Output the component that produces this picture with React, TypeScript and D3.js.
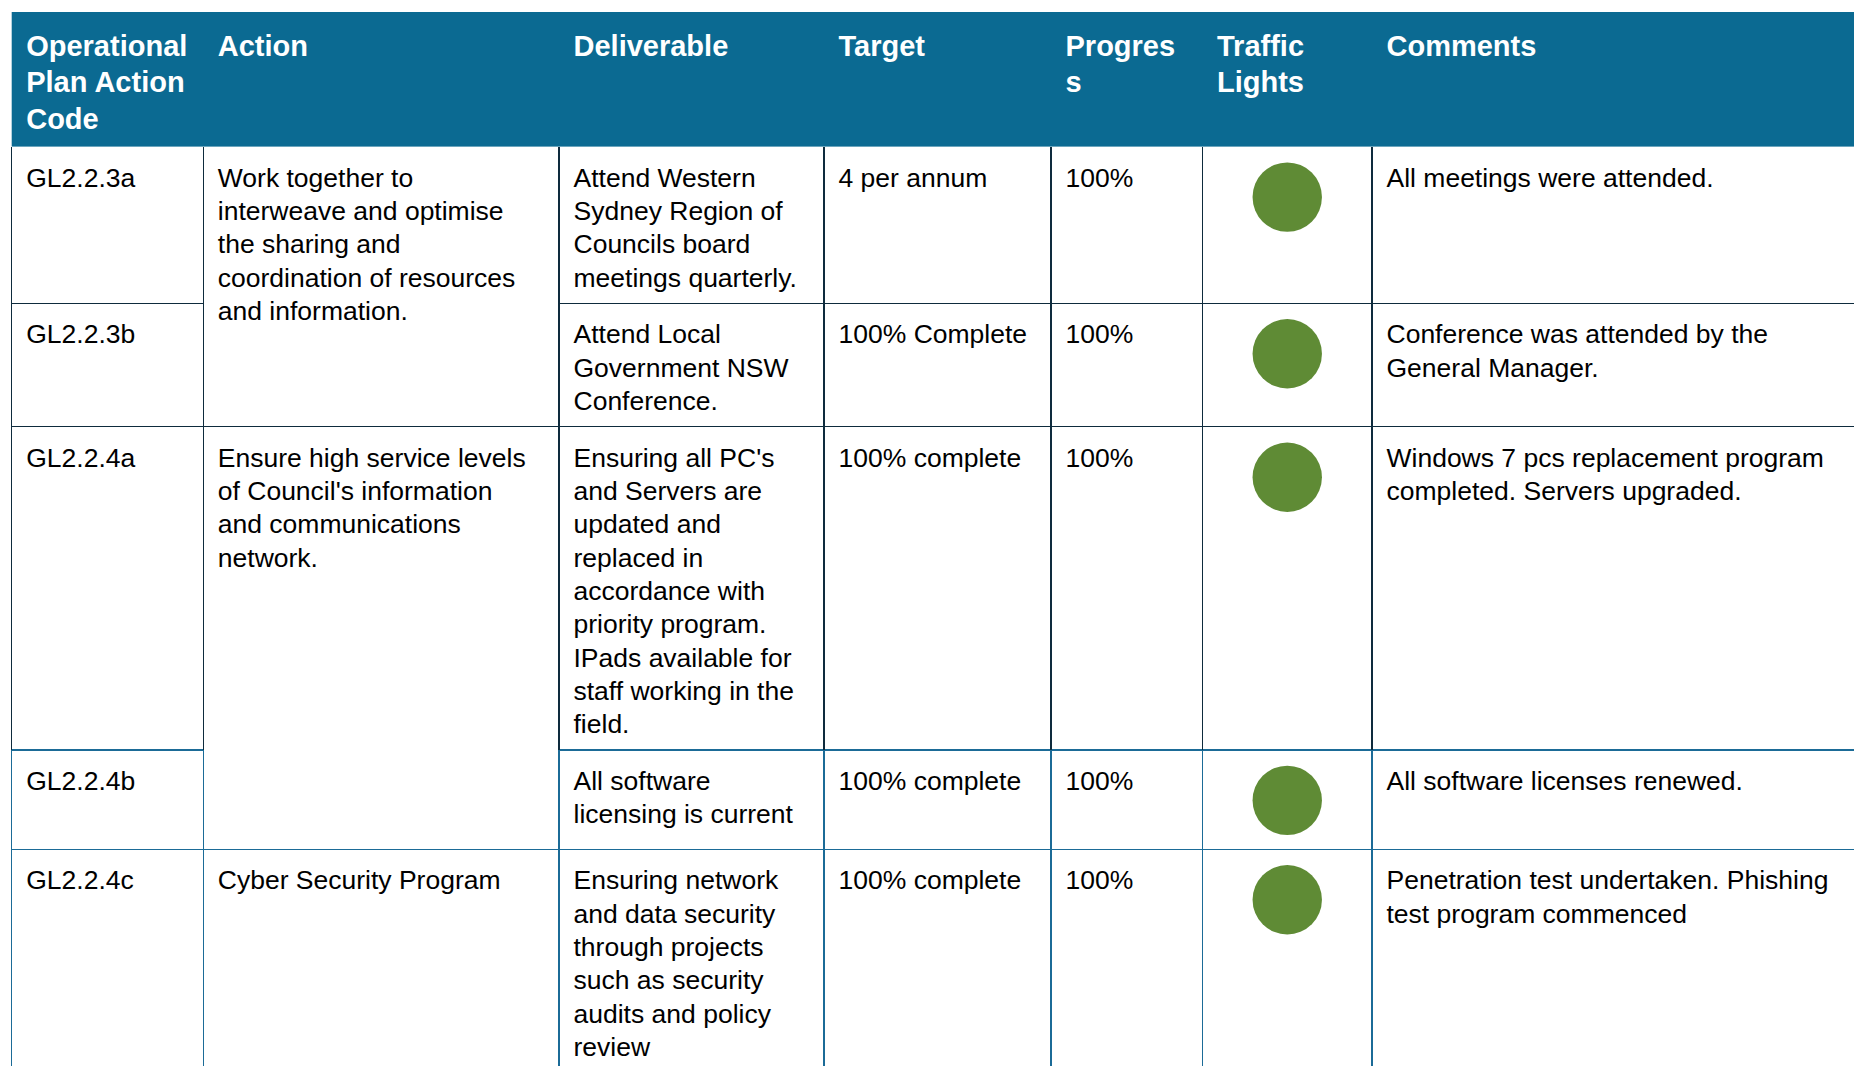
import React from "react";
import * as d3 from "d3";

// ---- data ----
const headers: string[][] = [
  ["Operational", "Plan Action", "Code"],
  ["Action"],
  ["Deliverable"],
  ["Target"],
  ["Progres", "s"],
  ["Traffic", "Lights"],
  ["Comments"],
];

const codes: string[] = ["GL2.2.3a", "GL2.2.3b", "GL2.2.4a", "GL2.2.4b", "GL2.2.4c"];

const actionGroups: { first: number; last: number; lines: string[] }[] = [
  {
    first: 0,
    last: 1,
    lines: [
      "Work together to",
      "interweave and optimise",
      "the sharing and",
      "coordination of resources",
      "and information.",
    ],
  },
  {
    first: 2,
    last: 3,
    lines: [
      "Ensure high service levels",
      "of Council's information",
      "and communications",
      "network.",
    ],
  },
  { first: 4, last: 4, lines: ["Cyber Security Program"] },
];

const deliverables: string[][] = [
  ["Attend Western", "Sydney Region of", "Councils board", "meetings quarterly."],
  ["Attend Local", "Government NSW", "Conference."],
  [
    "Ensuring all PC's",
    "and Servers are",
    "updated and",
    "replaced in",
    "accordance with",
    "priority program.",
    "IPads available for",
    "staff working in the",
    "field.",
  ],
  ["All software", "licensing is current"],
  [
    "Ensuring network",
    "and data security",
    "through projects",
    "such as security",
    "audits and policy",
    "review",
  ],
];

const targets: string[] = ["4 per annum", "100% Complete", "100% complete", "100% complete", "100% complete"];
const progress: string[] = ["100%", "100%", "100%", "100%", "100%"];
const trafficLights: string[] = ["green", "green", "green", "green", "green"];

const comments: string[][] = [
  ["All meetings were attended."],
  ["Conference was attended by the", "General Manager."],
  ["Windows 7 pcs replacement program", "completed. Servers upgraded."],
  ["All software licenses renewed."],
  ["Penetration test undertaken. Phishing", "test program commenced"],
];

// ---- layout ----
const W = 1854;
const H = 1066;
const colWidths = [191.6, 355.7, 265, 227, 151.5, 169.5, 700];
const tableLeft = 11.7;
const tableTop = 12;
const headerH = 134.6;
const lineH = 33.3;
const headLineH = 36.3;
const padX = 14.5;
const minRowH = 99.4;
const FONT = "'Liberation Sans', Arial, Helvetica, sans-serif";
const HEADER_BG = "#0b6a92";
const DARK_LINE = "#0e2b3d";
const BLUE_LINE = "#1b6b97";
const LIGHT_COLORS: Record<string, string> = { green: "#5f8b35", amber: "#f0a830", red: "#c0392b" };

export default function App() {
  const colX = [tableLeft, ...Array.from(d3.cumsum(colWidths)).map((v) => tableLeft + v)];
  const x = d3.scaleOrdinal<number, number>().domain(d3.range(colWidths.length)).range(colX);

  // row heights from content
  const rowLines = codes.map((_, i) => {
    const act = actionGroups.find((g) => g.first === i && g.first === g.last);
    return Math.max(deliverables[i].length, comments[i].length, act ? act.lines.length : 1);
  });
  const rowHeights = rowLines.map((n) => Math.max(n * lineH + 23.5, minRowH));
  const bodyTop = tableTop + headerH;
  const rowTops = [bodyTop, ...Array.from(d3.cumsum(rowHeights)).map((v) => bodyTop + v)];
  const y = d3.scaleOrdinal<number, number>().domain(d3.range(rowTops.length)).range(rowTops);

  const lineColor = (r: number) => (r >= 3 ? BLUE_LINE : DARK_LINE);
  const right = W + 50;

  const textLines = (lines: string[], cx: number, top: number, key: string) =>
    lines.map((t, k) => (
      <text key={key + k} x={cx + padX} y={top + 40 + k * lineH}>
        {t}
      </text>
    ));

  const trafficCx = (x(5) + x(6)) / 2;

  return (
    <svg
      width={W}
      height={H}
      style={{ position: "absolute", left: 0, top: 0, background: "#fff" }}
      fontFamily={FONT}
    >
      <rect x={0} y={0} width={W} height={H} fill="#fff" />
      {/* header */}
      <rect x={tableLeft} y={tableTop} width={right - tableLeft} height={headerH} fill={HEADER_BG} />
      <g fill="#fff" fontWeight="bold" fontSize={29}>
        {headers.map((lines, c) =>
          lines.map((t, k) => (
            <text key={`h${c}-${k}`} x={x(c) + padX} y={tableTop + 44 + k * headLineH}>
              {t}
            </text>
          ))
        )}
      </g>

      {/* body text */}
      <g fill="#000" fontSize={26.5}>
        {codes.map((c, i) => textLines([c], x(0), y(i), `c${i}`))}
        {actionGroups.map((g, i) => textLines(g.lines, x(1), y(g.first), `a${i}`))}
        {deliverables.map((d, i) => textLines(d, x(2), y(i), `d${i}`))}
        {targets.map((t, i) => textLines([t], x(3), y(i), `t${i}`))}
        {progress.map((p, i) => textLines([p], x(4), y(i), `p${i}`))}
        {comments.map((cm, i) => textLines(cm, x(6), y(i), `m${i}`))}
      </g>

      {/* traffic lights */}
      {trafficLights.map((l, i) => (
        <circle key={`l${i}`} cx={trafficCx} cy={y(i) + 50.5} r={34.7} fill={LIGHT_COLORS[l]} />
      ))}

      {/* horizontal borders */}
      <g strokeWidth={1.2} shapeRendering="crispEdges">
        {codes.slice(1).map((_, j) => {
          const r = j + 1;
          const yy = y(r);
          const inGroup = actionGroups.some((g) => r > g.first && r <= g.last);
          const col = lineColor(r);
          if (inGroup) {
            return (
              <g key={`hl${r}`}>
                <line x1={x(0)} x2={x(1)} y1={yy} y2={yy} stroke={col} />
                <line x1={x(2)} x2={right} y1={yy} y2={yy} stroke={col} />
              </g>
            );
          }
          return <line key={`hl${r}`} x1={x(0)} x2={right} y1={yy} y2={yy} stroke={col} />;
        })}
        {/* vertical borders */}
        {codes.map((_, r) =>
          colX.slice(0, 7).map((cx, c) => (
            <line
              key={`v${r}-${c}`}
              x1={cx}
              x2={cx}
              y1={y(r)}
              y2={y(r + 1)}
              stroke={lineColor(r)}
            />
          ))
        )}
      </g>
    </svg>
  );
}
